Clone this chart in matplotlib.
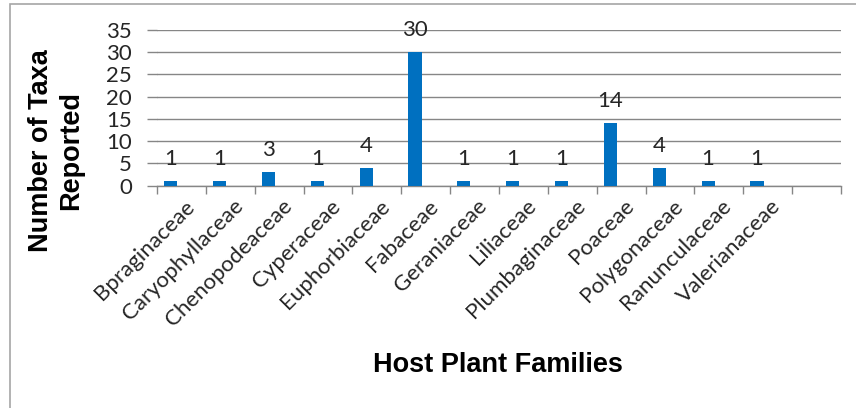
import matplotlib
matplotlib.use("Agg")
import matplotlib.pyplot as plt
from matplotlib.patches import Rectangle

families = ["Bpraginaceae", "Caryophyllaceae", "Chenopodeaceae", "Cyperaceae",
            "Euphorbiaceae", "Fabaceae", "Geraniaceae", "Liliaceae",
            "Plumbaginaceae", "Poaceae", "Polygonaceae", "Ranunculaceae",
            "Valerianaceae", ""]
taxa = [1, 1, 3, 1, 4, 30, 1, 1, 1, 14, 4, 1, 1, None]
yticks = [0, 5, 10, 15, 20, 25, 30, 35]

W, H = 856, 408
fig = plt.figure(figsize=(W / 100, H / 100), dpi=100)
fig.patch.set_facecolor("white")

# outer chart border (only left and top visible in crop)
fig.patches.append(Rectangle((10 / W, -0.1), 1.5, 1 - 4 / H + 0.1,
                             transform=fig.transFigure, fill=False,
                             edgecolor="#a6a6a6", linewidth=1.2))

ax = fig.add_axes([157 / W, 1 - 185.7 / H, (841 - 157) / W, (185.7 - 30) / H])

tick_font = "Lato"
grid_c = "#868686"
bar_c = "#0070C0"
txt_c = "#262626"
offset = -0.22
width = 0.27

for i, v in enumerate(taxa):
    if v is None:
        continue
    ax.bar(i + offset, v, width=width, color=bar_c, zorder=3)
    ax.text(i + offset, v + 4.95, str(v), ha="center", va="center",
            fontsize=16, family=tick_font, color=txt_c)

ax.set_xlim(-0.5, len(families) - 0.5)
ax.set_ylim(0, 35)
ax.set_yticks(yticks)
ax.set_yticklabels([str(t) for t in yticks], family=tick_font, fontsize=16,
                   color=txt_c)
ax.yaxis.grid(True, color=grid_c, linewidth=1.0, zorder=0)
ax.set_axisbelow(True)

ax.set_xticks([i - 0.5 for i in range(len(families) + 1)])
ax.set_xticklabels([])
ax.tick_params(axis="x", length=6, color=grid_c, width=1.0, direction="out")
ax.tick_params(axis="y", length=7, color=grid_c, width=1.0, pad=11)

for i, name in enumerate(families):
    if not name:
        continue
    ax.text(i + 0.05, -2.3, name, rotation=45, rotation_mode="anchor", ha="right",
            va="top", fontsize=16, family=tick_font, color=txt_c,
            transform=ax.transData)

for s in ["top", "right", "left"]:
    ax.spines[s].set_visible(False)
ax.spines["bottom"].set_color(grid_c)
ax.spines["bottom"].set_linewidth(1.0)

fig.text(41 / W, 1 - 151 / H, "Number of Taxa", rotation=90, ha="center",
         va="center", fontsize=19.5, fontweight="bold",
         family="Liberation Sans", color="black")
fig.text(71 / W, 1 - 151 / H, "Reported", rotation=90, ha="center",
         va="center", fontsize=19.5, fontweight="bold",
         family="Liberation Sans", color="black")
fig.text(498 / W, 1 - 365 / H, "Host Plant Families", ha="center",
         va="center", fontsize=19.5, fontweight="bold",
         family="Liberation Sans", color="black")

fig.savefig("out.png", dpi=100)
